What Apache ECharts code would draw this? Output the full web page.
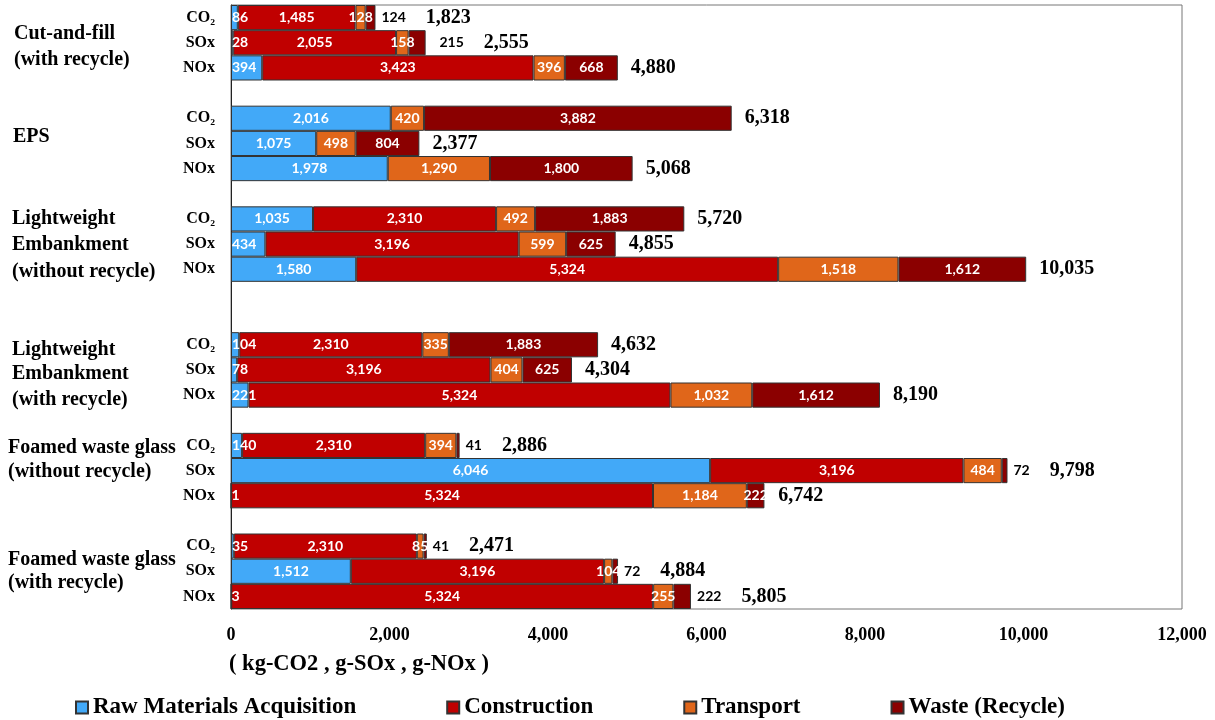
<!DOCTYPE html>
<html>
<head>
<meta charset="utf-8">
<title>Environmental load by construction method</title>
<script src="https://cdn.jsdelivr.net/npm/echarts@6/dist/echarts.min.js"></script>
<style>
  html, body { margin: 0; padding: 0; background: #fff; }
  #chart { width: 1215px; height: 720px; }
</style>
</head>
<body>
<div id="chart"></div>
<script>
// ---- data (each row: [CO2, SOx, NOx]) ----
var gases = ['CO₂', 'SOx', 'NOx'];
var groupLines = [
  ['Cut-and-fill', '(with recycle)'],
  ['EPS'],
  ['Lightweight', 'Embankment', '(without recycle)'],
  ['Lightweight', 'Embankment', '(with recycle)'],
  ['Foamed waste glass', '(without recycle)'],
  ['Foamed waste glass', '(with recycle)']
];
var seriesNames = ['Raw Materials Acquisition', 'Construction', 'Transport', 'Waste (Recycle)'];
var rawMaterials = [[86, 28, 394], [2016, 1075, 1978], [1035, 434, 1580], [104, 78, 221], [140, 6046, 1], [35, 1512, 3]];
var construction = [[1485, 2055, 3423], [0, 0, 0], [2310, 3196, 5324], [2310, 3196, 5324], [2310, 3196, 5324], [2310, 3196, 5324]];
var transport = [[128, 158, 396], [420, 498, 1290], [492, 599, 1518], [335, 404, 1032], [394, 484, 1184], [85, 104, 255]];
var waste = [[124, 215, 668], [3882, 804, 1800], [1883, 625, 1612], [1883, 625, 1612], [41, 72, 222], [41, 72, 222]];
var totals = [[1823, 2555, 4880], [6318, 2377, 5068], [5720, 4855, 10035], [4632, 4304, 8190], [2886, 9798, 6742], [2471, 4884, 5805]];
var xTicks = { min: 0, max: 12000, step: 2000 };

// ---- layout bits ----
var blankAfter = [1, 1, 2, 1, 1, 0];          // empty rows after each group
var groupLabelY = [[34, 60], [137], [219, 245, 272], [350, 374, 400], [448, 472], [560, 583]];
var groupLabelX = [14, 13, 12, 12, 8, 8];
var wasteOutside = { '0-0': 1, '0-1': 1, '4-0': 1, '4-1': 1, '5-0': 1, '5-1': 1, '5-2': 1 };
var colors = ['#42a9f8', '#c00000', '#e0661a', '#8b0000'];
var serif = '"Liberation Serif", "Times New Roman", serif';
var sans = 'Lato, "Open Sans", sans-serif';

function fmt(v) { return String(v).replace(/\B(?=(\d{3})+(?!\d))/g, ','); }

var cats = [], slotKey = [];
groupLines.forEach(function (g, gi) {
  gases.forEach(function (gas, k) { cats.push(gas + '#' + gi); slotKey.push([gi, k]); });
  for (var b = 0; b < blankAfter[gi]; b++) { cats.push('#b' + gi + b); slotKey.push(null); }
});

function buildData(arr, si) {
  return slotKey.map(function (s) {
    if (!s) return '-';
    var v = arr[s[0]][s[1]];
    var item = { value: v, key: s[0] + '-' + s[1] };
    if (v === 0) item.itemStyle = { borderWidth: 0 };
    if (si === 0) item.label = { position: v < 500 ? 'insideLeft' : 'inside', distance: 1 };
    return item;
  });
}

var stackSeries = [rawMaterials, construction, transport, waste].map(function (arr, si) {
  return {
    name: seriesNames[si],
    type: 'bar',
    stack: 'total',
    barCategoryGap: '0%',
    barGap: '-100%',
    z: 3,
    data: buildData(arr, si),
    itemStyle: { color: colors[si], borderColor: '#333', borderWidth: 1 },
    label: {
      show: true,
      position: 'inside',
      color: '#fff',
      fontFamily: sans,
      fontWeight: 'bold',
      fontSize: 14,
      formatter: function (p) {
        if (!p.value) return '';
        if (si === 3 && wasteOutside[p.data.key]) return '';
        return fmt(p.value);
      }
    }
  };
});

var totalSeries = {
  name: 'Total',
  type: 'bar',
  barGap: '-100%',
  barCategoryGap: '0%',
  z: 1,
  silent: true,
  data: slotKey.map(function (s) { return s ? { value: totals[s[0]][s[1]], key: s[0] + '-' + s[1] } : '-'; }),
  itemStyle: { color: 'rgba(0,0,0,0)' },
  label: {
    show: true,
    position: 'right',
    distance: 6,
    formatter: function (p) {
      var k = p.data.key.split('-');
      var t = fmt(p.value);
      if (wasteOutside[p.data.key]) return '{s|' + fmt(waste[+k[0]][+k[1]]) + '}{t|' + t + '}';
      return '{t0|' + t + '}';
    },
    rich: {
      s: { fontFamily: sans, fontWeight: 'bold', fontSize: 14, color: '#000', padding: [0, 20, 0, 0] },
      t: { fontFamily: serif, fontWeight: 'bold', fontSize: 20, color: '#000' },
      t0: { fontFamily: serif, fontWeight: 'bold', fontSize: 20, color: '#000', padding: [0, 0, 0, 7] }
    }
  }
};

var graphics = [{
  type: 'text',
  style: { text: '( kg-CO2 , g-SOx , g-NOx )', x: 229, y: 664, verticalAlign: 'middle', font: 'bold 22.5px ' + serif, fill: '#000' }
}];
groupLines.forEach(function (lines, gi) {
  lines.forEach(function (line, li) {
    graphics.push({
      type: 'text',
      style: { text: line, x: groupLabelX[gi], y: groupLabelY[gi][li], verticalAlign: 'middle', font: 'bold 20px ' + serif, fill: '#000' }
    });
  });
});

var chart = echarts.init(document.getElementById('chart'), null, { renderer: 'canvas' });
chart.setOption({
  animation: false,
  backgroundColor: '#fff',
  color: colors,
  grid: { left: 231, right: 33, top: 5, bottom: 111, show: true, borderColor: '#777', borderWidth: 1, containLabel: false },
  legend: {
    data: seriesNames,
    left: 70,
    top: 691,
    itemGap: 90,
    itemWidth: 12,
    itemHeight: 12,
    icon: 'rect',
    textStyle: { fontFamily: serif, fontWeight: 'bold', fontSize: 23, color: '#000' }
  },
  xAxis: {
    type: 'value',
    min: xTicks.min,
    max: xTicks.max,
    interval: xTicks.step,
    axisLine: { show: false },
    axisTick: { show: false },
    splitLine: { show: false },
    axisLabel: { formatter: fmt, fontFamily: serif, fontWeight: 'bold', fontSize: 18, color: '#000', margin: 17 }
  },
  yAxis: {
    type: 'category',
    inverse: true,
    data: cats,
    axisTick: { show: false },
    axisLine: { show: true, lineStyle: { color: '#222', width: 1 } },
    axisLabel: {
      interval: 0,
      margin: 16,
      fontFamily: serif,
      fontWeight: 'bold',
      fontSize: 16,
      color: '#000',
      formatter: function (v) { return v.split('#')[0]; }
    }
  },
  graphic: graphics,
  series: stackSeries.concat([totalSeries])
});
</script>
</body>
</html>
